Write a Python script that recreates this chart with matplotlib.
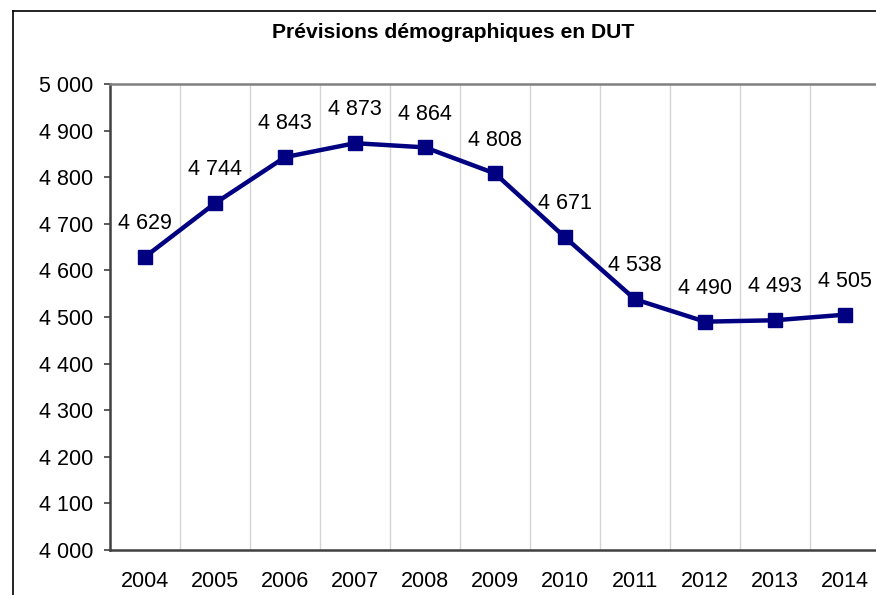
import matplotlib
matplotlib.use("Agg")
import matplotlib.pyplot as plt
from matplotlib.lines import Line2D

years = ["2004", "2005", "2006", "2007", "2008", "2009", "2010", "2011", "2012", "2013", "2014"]
values = [4629, 4744, 4843, 4873, 4864, 4808, 4671, 4538, 4490, 4493, 4505]
yticks = list(range(4000, 5001, 100))

def fmt(v):
    return f"{v:,}".replace(",", " ")

plt.rcParams['font.family'] = ['Liberation Sans', 'DejaVu Sans']

W, H = 876, 595
FS = 15.5
fig = plt.figure(figsize=(W / 100, H / 100), dpi=100)
ax = fig.add_axes([110 / W, 1 - 550 / H, 770 / W, (550 - 84) / H])

x = list(range(len(years)))
ax.plot(x, values, color="#000080", lw=3.2, marker="s", markersize=10, zorder=3, clip_on=False)
for xi, v in zip(x, values):
    ax.annotate(fmt(v), (xi, v), xytext=(0, 24), textcoords="offset points",
                ha="center", va="center", fontsize=FS, color="black")

ax.set_xlim(-0.5, len(years) - 0.5)
ax.set_ylim(4000, 5000)
ax.set_yticks(yticks)
ax.set_yticklabels([fmt(t) for t in yticks], fontsize=FS)
ax.set_xticks(x)
ax.set_xticklabels(years, fontsize=FS)
ax.tick_params(axis="x", length=0, pad=15)
ax.tick_params(axis="y", length=4.3, width=1.2, color="#404040", pad=7.5)

for b in [i + 0.5 for i in range(len(years) - 1)]:
    ax.axvline(b, color="#d4d4d4", lw=1, zorder=1)

ax.spines["left"].set_color("#404040")
ax.spines["left"].set_linewidth(1.8)
ax.spines["bottom"].set_color("#404040")
ax.spines["bottom"].set_linewidth(1.8)
ax.spines["top"].set_color("#808080")
ax.spines["top"].set_linewidth(1.8)
ax.spines["right"].set_visible(False)

fig.text(453 / W, 1 - 33 / H, "Prévisions démographiques en DUT", ha="center", va="center",
         fontsize=15.2, fontweight="bold")

bx, by = 13 / W, 1 - 11 / H
fig.lines.append(Line2D([bx, bx], [-0.05, by], transform=fig.transFigure, color="black", lw=1.2))
fig.lines.append(Line2D([bx, 1.05], [by, by], transform=fig.transFigure, color="black", lw=1.2))

fig.savefig("out.png", dpi=100)
